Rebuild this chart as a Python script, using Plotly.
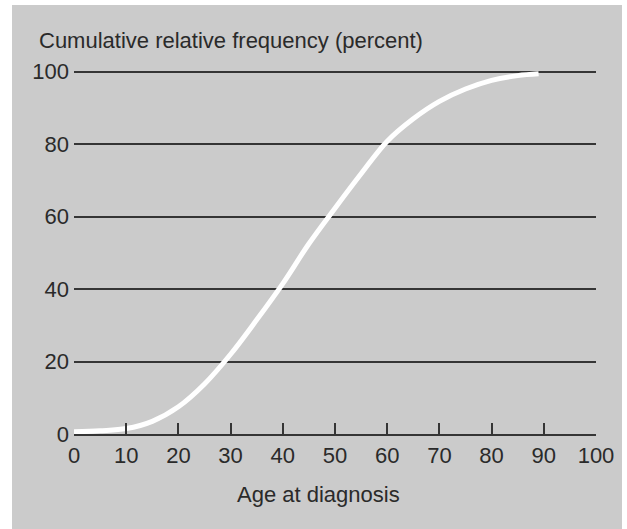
import plotly.graph_objects as go

# Data
age = [0, 5, 10, 15, 20, 25, 30, 35, 40, 45, 50, 55, 60, 65, 70, 75, 80, 85, 89]
cum_pct = [0.6, 0.9, 1.5, 3.5, 7.5, 13.8, 22, 31.5, 41.5, 52.5, 62.3, 71.8, 80.8, 87.0, 91.8, 95.2, 97.6, 98.9, 99.4]

x_ticks = [0, 10, 20, 30, 40, 50, 60, 70, 80, 90, 100]
y_ticks = [0, 20, 40, 60, 80, 100]

x_title = "Age at diagnosis"
y_title = "Cumulative relative frequency (percent)"

FONT = "Liberation Sans, Arial, Helvetica, sans-serif"
TXT = "#2a2a2a"
LINE = "#353535"
BG = "#cbcbcb"

W, H = 627, 529
L, R, T, B = 74, 31, 68, 95
pw, ph = W - L - R, H - T - B

def px_to_paper_x(px):
    return (px - L) / pw

def px_to_paper_y(py):
    return (H - B - py) / ph

fig = go.Figure()
fig.add_trace(go.Scatter(
    x=age, y=cum_pct, mode="lines",
    line=dict(color="white", width=5, shape="spline", smoothing=1.0),
    hoverinfo="skip", showlegend=False,
))

fig.update_layout(
    width=W, height=H,
    margin=dict(l=L, r=R, t=T, b=B, pad=0, autoexpand=False),
    paper_bgcolor="white",
    plot_bgcolor="rgba(0,0,0,0)",
    font=dict(family=FONT, size=22, color=TXT),
    showlegend=False,
    xaxis=dict(
        range=[0, 100], tickvals=x_ticks, ticktext=[str(v) for v in x_ticks],
        showgrid=False, zeroline=False, automargin=False,
        showline=True, linecolor=LINE, linewidth=2,
        ticks="inside", ticklen=11, tickwidth=2, tickcolor=LINE,
        ticklabelstandoff=1,
        tickfont=dict(family=FONT, size=22, color=TXT),
        fixedrange=True,
    ),
    yaxis=dict(
        range=[0, 101], tickvals=y_ticks, ticktext=[str(v) for v in y_ticks],
        showgrid=True, gridcolor=LINE, gridwidth=2,
        zeroline=False, showline=False, automargin=False,
        ticks="", ticklabelstandoff=4,
        tickfont=dict(family=FONT, size=22, color=TXT),
        fixedrange=True,
    ),
    shapes=[dict(
        type="rect", xref="paper", yref="paper", layer="below",
        x0=px_to_paper_x(12), x1=px_to_paper_x(622),
        y0=px_to_paper_y(529), y1=px_to_paper_y(5),
        fillcolor=BG, line=dict(width=0),
    )],
    annotations=[
        dict(text=y_title, xref="paper", yref="paper",
             x=px_to_paper_x(37), y=px_to_paper_y(40.5),
             xanchor="left", yanchor="middle", showarrow=False,
             font=dict(family=FONT, size=22, color=TXT)),
        dict(text=x_title, xref="paper", yref="paper",
             x=px_to_paper_x(318), y=px_to_paper_y(494),
             xanchor="center", yanchor="middle", showarrow=False,
             font=dict(family=FONT, size=22, color=TXT)),
    ],
)

fig.write_html(
    "out.html",
    config={"displayModeBar": False},
    post_script="document.body.style.margin='0';document.body.style.overflow='hidden';",
)
